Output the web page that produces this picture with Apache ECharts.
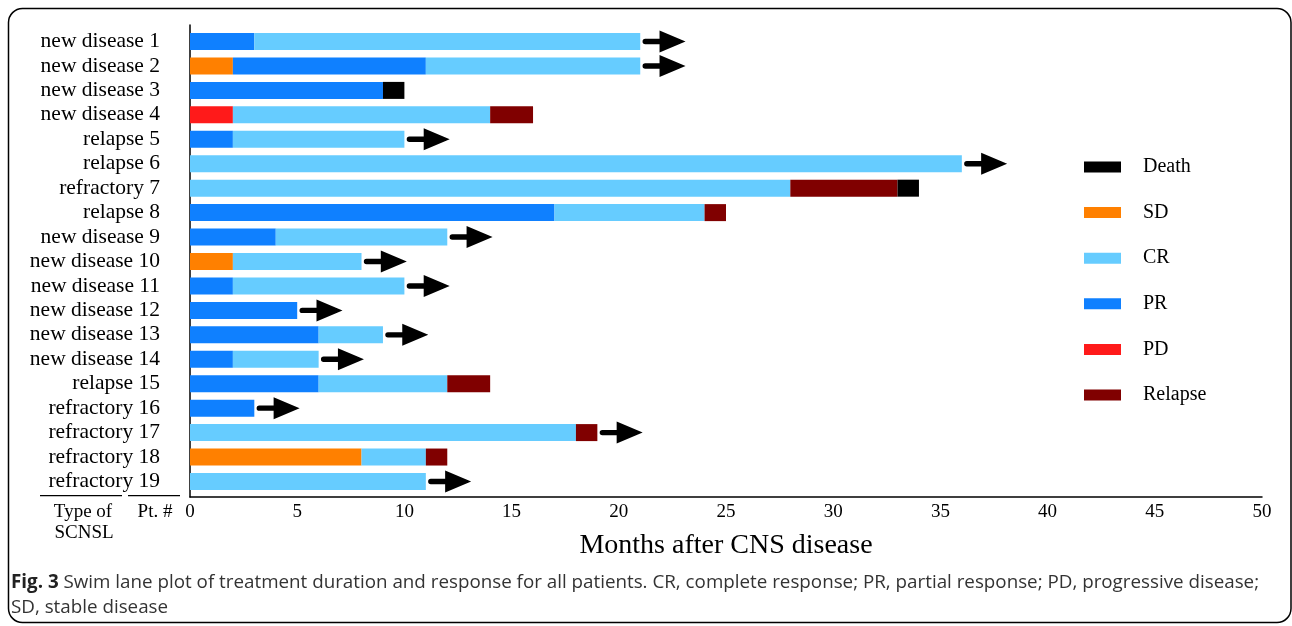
<!DOCTYPE html>
<html>
<head>
<meta charset="utf-8">
<script src="https://cdn.jsdelivr.net/npm/echarts@6/dist/echarts.min.js"></script>
<style>
html,body{margin:0;padding:0;background:#fff;}
#chart{width:1292px;height:626px;}
</style>
</head>
<body>
<div id="chart"></div>
<script>
// ---- data ----
var patients = ['new disease 1','new disease 2','new disease 3','new disease 4','relapse 5','relapse 6','refractory 7','relapse 8','new disease 9','new disease 10','new disease 11','new disease 12','new disease 13','new disease 14','relapse 15','refractory 16','refractory 17','refractory 18','refractory 19'];
// months spent in each state (stacked in this order)
var sdMonths      = [0,2,0,0,0,0,0,0,0,2,0,0,0,0,0,0,0,8,0];
var pdMonths      = [0,0,0,2,0,0,0,0,0,0,0,0,0,0,0,0,0,0,0];
var prMonths      = [3,9,9,0,2,0,0,17,4,0,2,5,6,2,6,3,0,0,0];
var crMonths      = [18,10,0,12,8,36,28,7,8,6,8,0,3,4,6,0,18,3,11];
var relapseMonths = [0,0,0,2,0,0,5,1,0,0,0,0,0,0,2,0,1,1,0];
var deathMonths   = [0,0,1,0,0,0,1,0,0,0,0,0,0,0,0,0,0,0,0];
// 1 = still ongoing (arrow)
var ongoing       = [1,1,0,0,1,1,0,0,1,1,1,1,1,1,0,1,1,0,1];
var xTicks = {min:0, max:50, interval:5};
var legendOrder = ['Death','SD','CR','PR','PD','Relapse'];

var colors = {SD:'#FF8000', PD:'#FF1A1A', PR:'#0F80FF', CR:'#66CCFF', Relapse:'#800000', Death:'#000000'};

var arrowData = [];
patients.forEach(function(p,i){
  var total = sdMonths[i]+pdMonths[i]+prMonths[i]+crMonths[i]+relapseMonths[i]+deathMonths[i];
  if (ongoing[i]) arrowData.push([total, i]);
});

var serif = 'Liberation Serif';
function barSeries(name, arr){
  return {
    name:name, type:'bar', stack:'t', xAxisIndex:0, yAxisIndex:0,
    barWidth:17, itemStyle:{color:colors[name]}, data:arr, silent:true
  };
}

var chart = echarts.init(document.getElementById('chart'));
chart.setOption({
  animation:false,
  backgroundColor:'#fff',
  textStyle:{fontFamily:serif},
  grid:[
    {left:190, right:30, top:29.3, height:464.4},
    {left:190, right:30, top:25, height:472}
  ],
  xAxis:[
    {gridIndex:0, type:'value', min:xTicks.min, max:xTicks.max, interval:xTicks.interval, show:false},
    {gridIndex:1, type:'value', min:xTicks.min, max:xTicks.max, interval:xTicks.interval,
     axisLine:{show:true, lineStyle:{color:'#000', width:1.5}},
     axisTick:{show:false}, splitLine:{show:false},
     axisLabel:{color:'#000', fontSize:19, fontFamily:serif, margin:6},
     name:'Months after CNS disease', nameLocation:'middle', nameGap:35,
     nameTextStyle:{color:'#000', fontSize:28, fontFamily:serif}}
  ],
  yAxis:[
    {gridIndex:0, type:'category', inverse:true, data:patients,
     axisLine:{show:false}, axisTick:{show:false}, splitLine:{show:false},
     axisLabel:{color:'#000', fontSize:21.5, fontFamily:serif, margin:30, interval:0, padding:[3,0,0,0]}},
    {gridIndex:1, type:'value', min:0, max:1,
     axisLine:{show:true, lineStyle:{color:'#000', width:1.5}},
     axisTick:{show:false}, splitLine:{show:false}, axisLabel:{show:false}}
  ],
  legend:{
    data:legendOrder, orient:'vertical', left:1084, top:157, padding:0,
    icon:'rect', itemWidth:37, itemHeight:11, itemGap:25.6,
    textStyle:{color:'#000', fontSize:20, fontFamily:serif, lineHeight:20, padding:[0,0,0,17]},
    selectedMode:false
  },
  series:[
    barSeries('SD', sdMonths),
    barSeries('PD', pdMonths),
    barSeries('PR', prMonths),
    barSeries('CR', crMonths),
    barSeries('Relapse', relapseMonths),
    barSeries('Death', deathMonths),
    {type:'scatter', xAxisIndex:0, yAxisIndex:0, data:arrowData, silent:true,
     symbol:'path://M2.7,8.3 L17,8.3 L17,0 L43,11 L17,22 L17,13.7 L2.7,13.7 A2.7,2.7 0 0 1 2.7,8.3 Z',
     symbolSize:[43,22], symbolOffset:[23.8,0], itemStyle:{color:'#000', opacity:1}, z:5}
  ],
  graphic:[
    {type:'rect', shape:{x:8.5, y:8.5, width:1282.5, height:614, r:14}, style:{fill:'none', stroke:'#000', lineWidth:1.5}, silent:true},
    {type:'line', shape:{x1:40, y1:495.7, x2:122, y2:495.7}, style:{stroke:'#000', lineWidth:1.2}},
    {type:'line', shape:{x1:128, y1:495.7, x2:180, y2:495.7}, style:{stroke:'#000', lineWidth:1.2}},
    {type:'text', x:83, y:512, style:{text:'Type of', fill:'#000', font:'19px "Liberation Serif"', align:'center', verticalAlign:'middle'}},
    {type:'text', x:84, y:533, style:{text:'SCNSL', fill:'#000', font:'19px "Liberation Serif"', align:'center', verticalAlign:'middle'}},
    {type:'text', x:155, y:512, style:{text:'Pt. #', fill:'#000', font:'19px "Liberation Serif"', align:'center', verticalAlign:'middle'}},
    {type:'text', x:11, y:583, style:{
      text:'{b|Fig. 3} Swim lane plot of treatment duration and response for all patients. CR, complete response; PR, partial response; PD, progressive disease;',
      fill:'#333', font:'18.8px "Open Sans"', verticalAlign:'middle',
      rich:{b:{fontWeight:'bold', fontFamily:'Open Sans', fontSize:18.8, fill:'#222'}}}},
    {type:'text', x:11, y:608, style:{text:'SD, stable disease', fill:'#333', font:'18.8px "Open Sans"', verticalAlign:'middle'}}
  ]
});
</script>
</body>
</html>
